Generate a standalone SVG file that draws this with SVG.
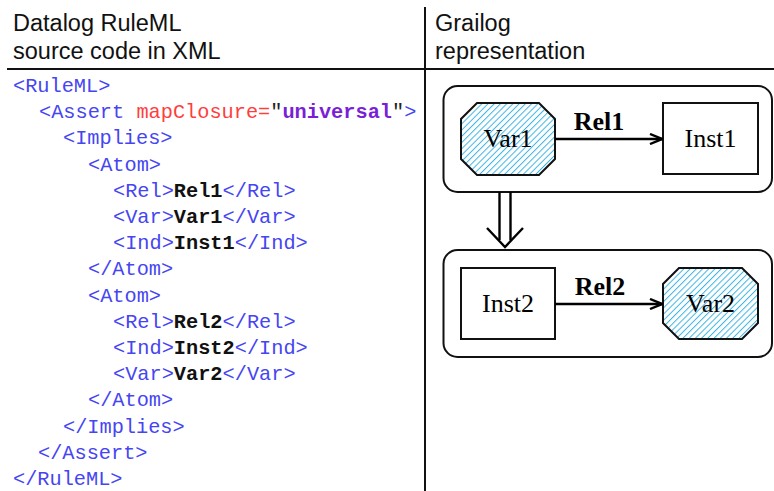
<svg xmlns="http://www.w3.org/2000/svg" width="774" height="491" viewBox="0 0 774 491">
  <defs>
    <!-- light blue diagonal hatching for variable nodes -->
    <pattern id="hatch" patternUnits="userSpaceOnUse" width="8" height="4.4" patternTransform="rotate(-45)">
      <rect x="0" y="0" width="8" height="1" fill="#3fb4e4"/>
    </pattern>
    <marker id="open" viewBox="0 0 14 12" refX="13" refY="6" markerWidth="14" markerHeight="12" markerUnits="userSpaceOnUse" orient="auto">
      <path d="M1,1 L13,6 L1,11" fill="none" stroke="#000" stroke-width="2.4"/>
    </marker>
  </defs>
  <style>
    .head { font-family: "Liberation Sans", Arial, sans-serif; font-size: 23.5px; fill: #111; }
    .code { font-family: "Liberation Mono", "Courier New", monospace; font-size: 20.3px; fill: #4545f2; }
    .attr { fill: #ff3d3d; }
    .val { fill: #7a1fd8; font-weight: bold; }
    .q { fill: #222; }
    .c { fill: #111; font-weight: bold; }
    .rule { stroke: #111; stroke-width: 2; fill: none; }
    .panel { fill: #fff; stroke: #111; stroke-width: 2; }
    .box { fill: #fff; stroke: #111; stroke-width: 2; }
    .var { stroke: #111; stroke-width: 2; }
    .lbl { font-family: "Liberation Serif", "Times New Roman", serif; font-size: 26px; fill: #000; text-anchor: middle; }
    .rel { font-family: "Liberation Serif", "Times New Roman", serif; font-size: 26px; font-weight: bold; fill: #000; text-anchor: middle; }
    .edge { stroke: #000; stroke-width: 2.4; fill: none; }
  </style>
  <rect width="774" height="491" fill="#fff"/>

  <!-- column frame -->
  <g id="frame">
    <line class="rule" x1="7" y1="69" x2="774" y2="69"/>
    <line class="rule" x1="425" y1="7" x2="425" y2="491"/>
    <text class="head" x="13" y="31">Datalog RuleML</text>
    <text class="head" x="13" y="59">source code in XML</text>
    <text class="head" x="435" y="31">Grailog</text>
    <text class="head" x="435" y="59">representation</text>
  </g>

  <!-- XML source listing, indented 25px per level -->
  <g id="source" class="code">
    <text x="13" y="92">&lt;RuleML&gt;</text>
    <text x="39" y="118.2">&lt;Assert <tspan class="attr">mapClosure=</tspan><tspan class="q">"</tspan><tspan class="val">universal</tspan><tspan class="q">"</tspan>&gt;</text>
    <text x="63" y="144.4">&lt;Implies&gt;</text>
    <text x="88" y="170.6">&lt;Atom&gt;</text>
    <text x="113" y="196.8">&lt;Rel&gt;<tspan class="c">Rel1</tspan>&lt;/Rel&gt;</text>
    <text x="113" y="223">&lt;Var&gt;<tspan class="c">Var1</tspan>&lt;/Var&gt;</text>
    <text x="113" y="249.2">&lt;Ind&gt;<tspan class="c">Inst1</tspan>&lt;/Ind&gt;</text>
    <text x="88" y="275.4">&lt;/Atom&gt;</text>
    <text x="88" y="301.6">&lt;Atom&gt;</text>
    <text x="113" y="327.8">&lt;Rel&gt;<tspan class="c">Rel2</tspan>&lt;/Rel&gt;</text>
    <text x="113" y="354">&lt;Ind&gt;<tspan class="c">Inst2</tspan>&lt;/Ind&gt;</text>
    <text x="113" y="380.2">&lt;Var&gt;<tspan class="c">Var2</tspan>&lt;/Var&gt;</text>
    <text x="88" y="406.4">&lt;/Atom&gt;</text>
    <text x="63" y="432.6">&lt;/Implies&gt;</text>
    <text x="38" y="458.8">&lt;/Assert&gt;</text>
    <text x="13" y="485">&lt;/RuleML&gt;</text>
  </g>

  <!-- premise and conclusion panels -->
  <g id="premise">
    <rect class="panel" x="443.5" y="86" width="328.5" height="106" rx="14"/>
  </g>
  <g id="conclusion">
    <rect class="panel" x="443.5" y="250" width="328.5" height="107" rx="14"/>
  </g>

  <!-- nodes -->
  <g id="var1">
    <polygon fill="#fff" points="477,103 539,103 555,119 555,159 539,175 477,175 461,159 461,119"/>
    <polygon class="var" fill="url(#hatch)" points="477,103 539,103 555,119 555,159 539,175 477,175 461,159 461,119"/>
    <text class="lbl" x="508" y="147">Var1</text>
  </g>
  <g id="inst1">
    <rect class="box" x="663" y="103" width="95" height="71"/>
    <text class="lbl" x="710.5" y="147">Inst1</text>
  </g>
  <g id="inst2">
    <rect class="box" x="461" y="268" width="94" height="71"/>
    <text class="lbl" x="508" y="312">Inst2</text>
  </g>
  <g id="var2">
    <polygon fill="#fff" points="679,268 742,268 758,284 758,323 742,339 679,339 663,323 663,284"/>
    <polygon class="var" fill="url(#hatch)" points="679,268 742,268 758,284 758,323 742,339 679,339 663,323 663,284"/>
    <text class="lbl" x="710.5" y="312">Var2</text>
  </g>

  <!-- connectors -->
  <g id="connectors">
    <line class="edge" x1="555" y1="139" x2="662" y2="139" marker-end="url(#open)"/>
    <text class="rel" x="599" y="130">Rel1</text>
    <line class="edge" x1="555" y1="304" x2="662" y2="304" marker-end="url(#open)"/>
    <text class="rel" x="600" y="295">Rel2</text>
    <!-- implication double arrow -->
    <line class="edge" x1="499.5" y1="192" x2="499.5" y2="240"/>
    <line class="edge" x1="510.5" y1="192" x2="510.5" y2="240"/>
    <path class="edge" d="M487,228 L505,247 L523,228"/>
  </g>
</svg>
